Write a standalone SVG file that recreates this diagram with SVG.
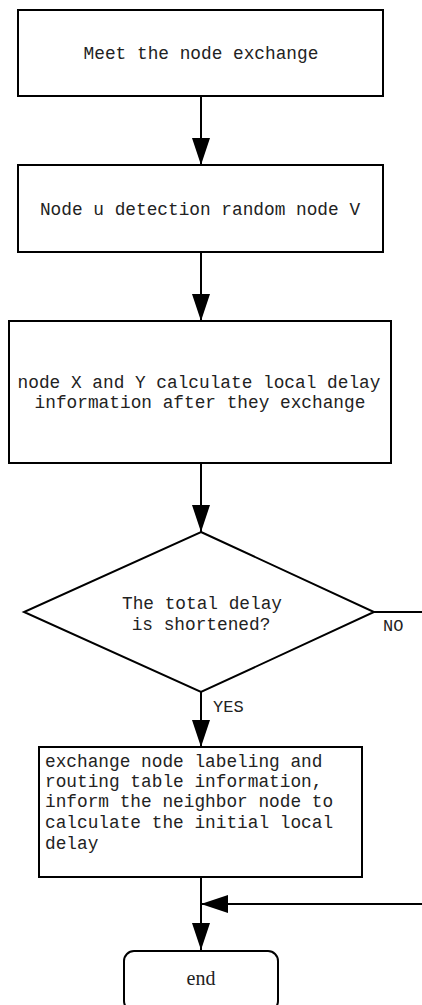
<svg xmlns="http://www.w3.org/2000/svg" width="422" height="1005" viewBox="0 0 422 1005">
  <style>
    .box { fill: #fff; stroke: #000; stroke-width: 2; }
    .line { fill: none; stroke: #000; stroke-width: 2; }
    .t { font-family: "Liberation Mono", "DejaVu Sans Mono", monospace; font-size: 17.8px; fill: #222; }
    .c { text-anchor: middle; }
    .lbl { font-family: "Liberation Mono", "DejaVu Sans Mono", monospace; font-size: 17px; fill: #222; }
    .end { font-family: "Liberation Serif", serif; font-size: 20px; fill: #222; text-anchor: middle; }
  </style>
  <defs>
    <marker id="arrow" viewBox="0 0 27 18" refX="27" refY="9" markerWidth="27" markerHeight="18" markerUnits="userSpaceOnUse" orient="auto">
      <path d="M0,0 L27,9 L0,18 Z" fill="#000"/>
    </marker>
  </defs>
  <rect width="422" height="1005" fill="#fff"/>

  <g id="connectors">
    <line class="line" x1="201" y1="96" x2="201" y2="165" marker-end="url(#arrow)"/>
    <line class="line" x1="201" y1="252" x2="201" y2="321" marker-end="url(#arrow)"/>
    <line class="line" x1="201" y1="463" x2="201" y2="532" marker-end="url(#arrow)"/>
    <line class="line" x1="201" y1="692" x2="201" y2="747" marker-end="url(#arrow)"/>
    <line class="line" x1="374" y1="612" x2="422" y2="612"/>
    <line class="line" x1="201" y1="877" x2="201" y2="950" marker-end="url(#arrow)"/>
    <line class="line" x1="422" y1="904" x2="201" y2="904" marker-end="url(#arrow)"/>
    <text class="lbl" x="383" y="631">NO</text>
    <text class="lbl" x="213" y="712">YES</text>
  </g>

  <g id="meet">
    <rect class="box" x="18" y="10" width="365" height="86"/>
    <text class="t c" x="201" y="59">Meet the node exchange</text>
  </g>

  <g id="detect">
    <rect class="box" x="18" y="165" width="365" height="87"/>
    <text class="t c" x="200" y="215">Node u detection random node V</text>
  </g>

  <g id="calc">
    <rect class="box" x="9" y="321" width="382" height="142"/>
    <text class="t c" x="199" y="388">node X and Y calculate local delay</text>
    <text class="t c" x="200" y="408">information after they exchange</text>
  </g>

  <g id="decision">
    <polygon class="box" points="201,532 374,612 201,692 24,612"/>
    <text class="t c" x="202" y="609">The total delay</text>
    <text class="t c" x="201" y="630">is shortened?</text>
  </g>

  <g id="update">
    <rect class="box" x="39" y="747" width="323" height="130"/>
    <text class="t" x="45" y="767">exchange node labeling and</text>
    <text class="t" x="45" y="787">routing table information,</text>
    <text class="t" x="45" y="807">inform the neighbor node to</text>
    <text class="t" x="45" y="828">calculate the initial local</text>
    <text class="t" x="45" y="849">delay</text>
  </g>

  <g id="end">
    <rect class="box" x="124" y="951" width="154" height="60" rx="10" ry="10"/>
    <text class="end" x="201" y="985">end</text>
  </g>
</svg>
